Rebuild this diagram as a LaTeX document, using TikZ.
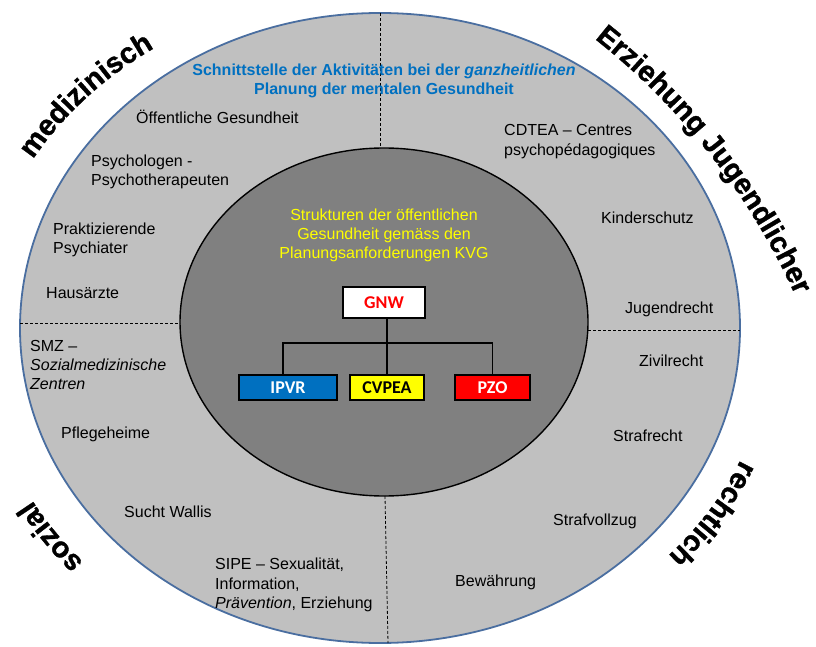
\documentclass[tikz,border=0pt]{standalone}
\usepackage{fontspec}
\setmainfont{Liberation Sans}
\newfontfamily\boxfont{Carlito}
\newfontfamily\heavyfont[BoldFeatures={FakeBold=1.2}]{Liberation Sans}
\usetikzlibrary{decorations.text}
\definecolor{ringblue}{RGB}{74,110,160}
\definecolor{ringgray}{RGB}{192,192,192}
\definecolor{coregray}{RGB}{128,128,128}
\definecolor{titleblue}{RGB}{0,112,192}
\definecolor{ipvrblue}{RGB}{0,112,192}
\definecolor{cvyellow}{RGB}{255,255,0}
\definecolor{pzored}{RGB}{255,0,0}
\begin{document}
\begin{tikzpicture}[x=1pt,y=1pt,
  item/.style={font=\fontsize{16}{19}\selectfont, anchor=base west, align=left, inner sep=0pt, text=black},
  titletext/.style={font=\bfseries\fontsize{16}{19}\selectfont, anchor=base, align=center, inner sep=0pt, text=titleblue},
  coretext/.style={font=\fontsize{16}{19}\selectfont, anchor=base, align=center, inner sep=0pt, text=cvyellow},
  orgbox/.style={draw=black, line width=1.4pt, minimum height=25pt, inner sep=0pt, font=\boxfont\bfseries\fontsize{18}{20}\selectfont},
  conn/.style={draw=black, line width=1.3pt},
  divider/.style={draw=black, line width=0.8pt, dash pattern=on 3pt off 2pt},
  arclabel/.style={decorate, decoration={text along path, text align=center, text={|\heavyfont\bfseries\fontsize{29}{34}\selectfont|#1}}}
]
\useasboundingbox (0,0) rectangle (816,646);

% rings
\draw[fill=ringgray, draw=ringblue, line width=1.8pt] (380,318) ellipse [x radius=360, y radius=315];
\draw[fill=coregray, draw=black, line width=1.4pt] (384,324) ellipse [x radius=204, y radius=174];

% dividers
\draw[divider] (380,633) -- (380,498);
\draw[divider] (20,323) -- (180,323);
\draw[divider] (588,316) -- (740,316);
\draw[divider] (385,150) -- (388,3);

% curved sector labels
\path[arclabel=medizinisch] (380,318) ++(165:400 and 339) arc[start angle=165, end angle=111, x radius=400, y radius=339];
\path[arclabel=sozial] (380,318) ++(235:400 and 349) arc[start angle=235, end angle=196, x radius=400, y radius=349];
\path[arclabel=rechtlich] (380,318) ++(-12:392 and 336) arc[start angle=-12, end angle=-53, x radius=392, y radius=336];
\path[arclabel={Erziehung Jugendlicher}] (169,68) ++(62:687) arc[start angle=62, end angle=14, radius=687];

% title
\node[titletext] (title) at (384,551) {Schnittstelle der Aktivitäten bei der \textit{ganzheitlichen}\\Planung der mentalen Gesundheit};

% ring items
\node[item] (oeff) at (136,522.5) {Öffentliche Gesundheit};
\node[item] (psychol) at (91,460.5) {Psychologen -\\Psychotherapeuten};
\node[item] (prakt) at (53,392.5) {Praktizierende\\Psychiater};
\node[item] (haus) at (46,347.5) {Hausärzte};
\node[item, font=\fontsize{16}{20}\selectfont] (cdtea) at (504,490.5) {CDTEA – Centres\\psychopédagogiques};
\node[item] (kinder) at (601,422.5) {Kinderschutz};
\node[item] (jugend) at (625,332.5) {Jugendrecht};
\node[item] (smz) at (30,256.5) {SMZ –\\\textit{Sozialmedizinische}\\\textit{Zentren}};
\node[item] (pflege) at (61,207.5) {Pflegeheime};
\node[item] (sucht) at (124,128.5) {Sucht Wallis};
\node[item, font=\fontsize{16}{19.5}\selectfont] (sipe) at (215,37.5) {SIPE – Sexualität,\\Information,\\\textit{Prävention}, Erziehung};
\node[item] (zivil) at (639,279.5) {Zivilrecht};
\node[item] (straf) at (613,204.5) {Strafrecht};
\node[item] (vollzug) at (553,120.5) {Strafvollzug};
\node[item] (bew) at (455,59.5) {Bewährung};

% core
\node[coretext] (core) at (384,387.5) {Strukturen der öffentlichen\\Gesundheit gemäss den\\Planungsanforderungen KVG};

\node[orgbox, fill=white, text=pzored, minimum width=82pt, minimum height=31pt] (gnw) at (384,343.5) {GNW};
\node[orgbox, fill=ipvrblue, text=white, minimum width=98pt] (ipvr) at (288,258.5) {IPVR};
\node[orgbox, fill=cvyellow, text=black, minimum width=74pt] (cvpea) at (387,258.5) {CVPEA};
\node[orgbox, fill=pzored, text=white, minimum width=75pt] (pzo) at (492.5,258.5) {PZO};

\coordinate (bar) at (384,303);
\draw[conn] ([xshift=3pt]gnw.south) -- ([xshift=3pt]gnw.south |- bar);
\draw[conn] ([xshift=-5pt]ipvr.north) |- (pzo.north |- bar) -- (pzo.north);
\draw[conn] (cvpea.north) -- (cvpea.north |- bar);
\end{tikzpicture}
\end{document}
